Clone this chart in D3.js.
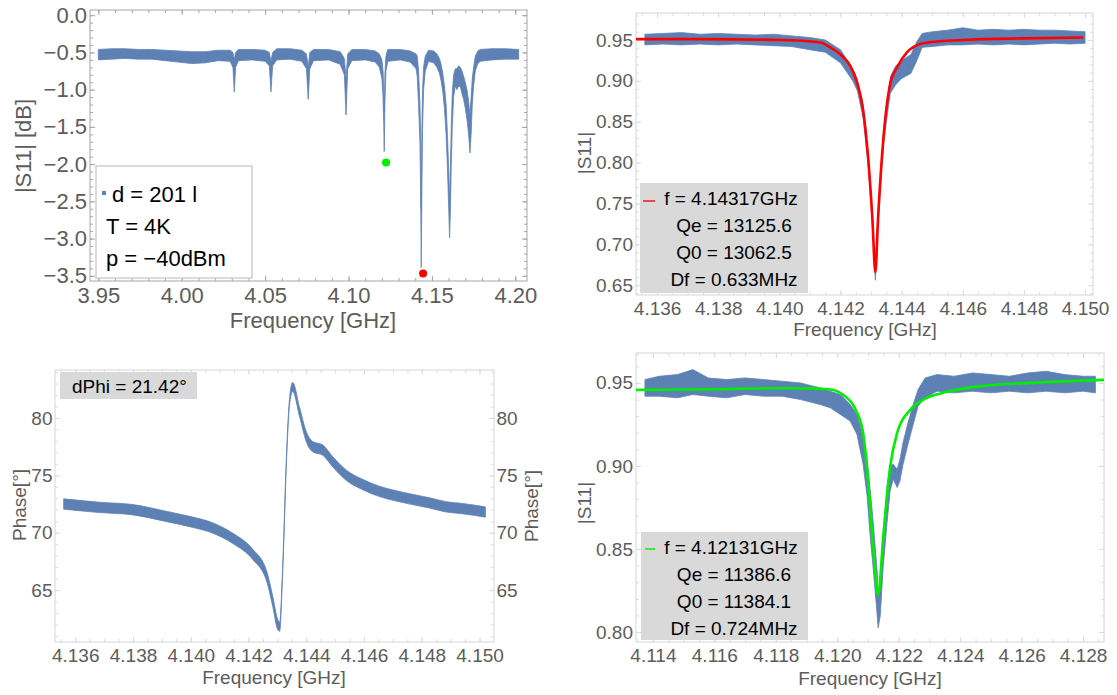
<!DOCTYPE html>
<html lang="en">
<head>
<meta charset="utf-8">
<title>S11 resonances</title>
<script src="https://cdn.jsdelivr.net/npm/d3@7"></script>
<style>
  body { margin: 0; background: #fff; }
  svg { display: block; font-family: "Liberation Sans", Arial, sans-serif; }
</style>
</head>
<body>
<script>
// ---- data ----
// panel 1 : |S11| [dB] overview, envelope of the measured points [f, lo, hi]
var p1Band = [
  [3.950,-0.60,-0.46],[3.958,-0.59,-0.45],[3.966,-0.58,-0.45],[3.974,-0.59,-0.46],
  [3.982,-0.59,-0.46],[3.990,-0.61,-0.47],[3.998,-0.63,-0.48],[4.006,-0.65,-0.49],
  [4.014,-0.64,-0.49],[4.022,-0.61,-0.47],[4.029,-0.62,-0.47],[4.0307,-0.70,-0.50],
  [4.0315,-1.03,-0.60],[4.0323,-0.70,-0.50],[4.034,-0.61,-0.46],[4.042,-0.60,-0.46],
  [4.050,-0.62,-0.47],[4.0525,-0.68,-0.50],[4.0535,-1.03,-0.62],[4.0545,-0.68,-0.50],
  [4.057,-0.60,-0.45],[4.065,-0.59,-0.45],[4.072,-0.62,-0.47],[4.0748,-0.72,-0.52],
  [4.0758,-1.13,-0.70],[4.0768,-0.72,-0.50],[4.079,-0.61,-0.46],[4.088,-0.60,-0.46],
  [4.095,-0.66,-0.49],[4.0975,-0.80,-0.58],[4.0985,-1.34,-0.85],[4.0995,-0.72,-0.52],
  [4.102,-0.61,-0.46],[4.110,-0.60,-0.46],[4.116,-0.63,-0.48],[4.1185,-0.70,-0.52],
  [4.1200,-0.85,-0.60],[4.1207,-1.10,-0.75],[4.1211,-1.45,-1.00],[4.1214,-1.83,-1.30],
  [4.1218,-1.20,-0.80],[4.1224,-0.75,-0.55],[4.1235,-0.62,-0.46],[4.131,-0.60,-0.46],
  [4.137,-0.63,-0.48],[4.1405,-0.72,-0.52],[4.1412,-0.83,-0.55],[4.1420,-1.20,-0.75],
  [4.1428,-1.70,-1.20],[4.1432,-2.30,-1.60],[4.1436,-3.39,-2.60],[4.1440,-2.30,-1.50],
  [4.1444,-1.50,-1.00],[4.1450,-1.00,-0.70],[4.1460,-0.75,-0.55],[4.148,-0.62,-0.47],
  [4.151,-0.64,-0.48],[4.153,-0.70,-0.52],[4.1545,-0.78,-0.58],[4.1555,-0.88,-0.66],
  [4.1565,-1.02,-0.78],[4.1575,-1.25,-0.95],[4.1585,-1.60,-1.20],[4.1593,-2.05,-1.60],
  [4.1600,-2.55,-2.05],[4.1606,-2.99,-2.50],[4.1611,-2.60,-2.00],[4.1616,-2.00,-1.50],
  [4.1622,-1.50,-1.05],[4.1630,-1.10,-0.80],[4.1640,-0.95,-0.72],[4.1650,-1.00,-0.72],
  [4.1660,-0.95,-0.68],[4.1670,-0.96,-0.70],[4.1680,-1.05,-0.75],[4.1690,-1.13,-0.82],
  [4.1700,-1.25,-0.90],[4.1710,-1.40,-1.00],[4.1720,-1.60,-1.15],[4.1728,-1.85,-1.35],
  [4.1735,-1.60,-1.10],[4.1742,-1.20,-0.85],[4.1750,-0.95,-0.70],[4.1760,-0.75,-0.55],
  [4.1775,-0.65,-0.48],[4.179,-0.62,-0.46],[4.186,-0.60,-0.45],[4.194,-0.59,-0.45],
  [4.202,-0.59,-0.46]
];
var p1Marks = [[4.1225, -1.98, "#00ee00"], [4.1447, -3.47, "#ff0000"]];
var p1XTicks = [3.95, 4.00, 4.05, 4.10, 4.15, 4.20];
var p1XLabels = ["3.95", "4.00", "4.05", "4.10", "4.15", "4.20"];
var p1YTicks = [0, -0.5, -1, -1.5, -2, -2.5, -3, -3.5];
var p1YLabels = ["0.0", "\u22120.5", "\u22121.0", "\u22121.5", "\u22122.0", "\u22122.5", "\u22123.0", "\u22123.5"];
var p1Legend = ["d = 201 l", "T = 4K", "p = \u221240dBm"];

// panel 2 : |S11| around 4.143 GHz, measured envelope and fit
var p2Band = [
  [4.1356,0.944,0.957],[4.1362,0.945,0.958],[4.1368,0.944,0.959],[4.1374,0.945,0.957],
  [4.1380,0.944,0.958],[4.1386,0.945,0.957],[4.1392,0.944,0.956],[4.1398,0.943,0.957],
  [4.1404,0.942,0.955],[4.1410,0.938,0.953],[4.1415,0.935,0.950],[4.1420,0.922,0.938],
  [4.1424,0.900,0.915],[4.14255,0.888,0.902],[4.14274,0.855,0.870],[4.14291,0.795,0.810],
  [4.14304,0.725,0.740],[4.14314,0.656,0.672],[4.14323,0.725,0.740],[4.14340,0.820,0.835],
  [4.1435,0.850,0.868],[4.14363,0.885,0.905],[4.1438,0.895,0.918],[4.1440,0.903,0.925],
  [4.1443,0.909,0.932],[4.1445,0.925,0.948],[4.14467,0.941,0.958],[4.1450,0.942,0.960],
  [4.1455,0.944,0.962],[4.1460,0.944,0.965],[4.1465,0.945,0.962],[4.1470,0.944,0.963],
  [4.1475,0.945,0.962],[4.1480,0.944,0.963],[4.1485,0.945,0.962],[4.1490,0.946,0.962],
  [4.1495,0.945,0.961],[4.1500,0.946,0.960]
];
var p2Fit = [
  [4.13531,0.951],[4.13741,0.951],[4.14003,0.950],[4.14134,0.947],[4.14166,0.941],
  [4.14209,0.929],[4.14232,0.918],[4.14255,0.897],[4.14274,0.864],[4.14291,0.803],
  [4.14304,0.733],[4.14314,0.666],[4.14323,0.733],[4.14340,0.828],[4.14363,0.897],
  [4.14386,0.917],[4.14418,0.935],[4.14471,0.946],[4.14602,0.950],[4.14798,0.952],
  [4.14994,0.953]
];
var p2XTicks = [4.136, 4.138, 4.140, 4.142, 4.144, 4.146, 4.148, 4.150];
var p2XLabels = ["4.136", "4.138", "4.140", "4.142", "4.144", "4.146", "4.148", "4.150"];
var p2YTicks = [0.65, 0.70, 0.75, 0.80, 0.85, 0.90, 0.95];
var p2YLabels = ["0.65", "0.70", "0.75", "0.80", "0.85", "0.90", "0.95"];
var p2Legend = ["f = 4.14317GHz", "Qe = 13125.6", "Q0 = 13062.5", "Df = 0.633MHz"];

// panel 3 : phase around 4.143 GHz, envelope [f, lo, hi]
var p3Band = [
  [4.1356,72.05,72.95],[4.13686,71.75,72.65],[4.1380,71.55,72.45],[4.13918,70.95,71.85],
  [4.1400,70.5,71.4],[4.14077,69.95,70.85],[4.14146,69.05,69.95],[4.14215,67.65,68.55],
  [4.14263,65.75,66.65],[4.14284,63.55,64.45],[4.14301,61.55,62.45],[4.14308,61.4,62.2],
  [4.14318,66.3,66.9],[4.14332,76.5,77.1],[4.14342,81.1,81.7],[4.14353,82.3,83.1],
  [4.14377,80.1,80.9],[4.14401,77.85,78.75],[4.14422,77.05,77.95],[4.14457,76.75,77.65],
  [4.14491,75.75,76.65],[4.14539,74.55,75.45],[4.14595,73.75,74.65],[4.14653,73.15,74.05],
  [4.14712,72.75,73.65],[4.14767,72.45,73.35],[4.14826,72.15,73.05],[4.14885,71.8,72.7],
  [4.1494,71.65,72.55],[4.1502,71.35,72.25]
];
var p3XTicks = p2XTicks;
var p3XLabels = p2XLabels;
var p3YTicks = [65, 70, 75, 80];
var p3YLabels = ["65", "70", "75", "80"];
var p3Legend = ["dPhi = 21.42\u00b0"];

// panel 4 : |S11| around 4.121 GHz, measured envelope and fit
var p4Band = [
  [4.11374,0.942,0.952],[4.1142,0.942,0.954],[4.1148,0.941,0.955],[4.1153,0.943,0.958],
  [4.1158,0.942,0.953],[4.1164,0.941,0.952],[4.1170,0.943,0.953],[4.1176,0.942,0.952],
  [4.1182,0.942,0.951],[4.1188,0.940,0.950],[4.11944,0.937,0.947],[4.11977,0.935,0.945],
  [4.1201,0.931,0.943],[4.12042,0.927,0.937],[4.12064,0.919,0.931],[4.12084,0.901,0.918],
  [4.12097,0.882,0.905],[4.12107,0.858,0.886],[4.12117,0.838,0.866],[4.1213,0.810,0.836],
  [4.12133,0.8025,0.822],[4.1214,0.810,0.826],[4.12149,0.838,0.860],[4.12162,0.866,0.888],
  [4.12172,0.885,0.900],[4.12182,0.892,0.901],[4.12195,0.887,0.898],[4.12204,0.891,0.904],
  [4.12214,0.901,0.914],[4.1223,0.913,0.926],[4.12247,0.925,0.937],[4.12263,0.936,0.946],
  [4.12286,0.941,0.953],[4.12325,0.945,0.955],[4.1238,0.944,0.954],[4.1244,0.945,0.956],
  [4.1250,0.944,0.955],[4.1256,0.945,0.954],[4.1262,0.944,0.956],[4.1268,0.945,0.957],
  [4.1274,0.944,0.955],[4.1280,0.945,0.954],[4.1284,0.944,0.954]
];
var p4Fit = [
  [4.11345,0.9458],[4.1160,0.9462],[4.1180,0.9468],[4.1190,0.9467],[4.11977,0.9460],
  [4.12019,0.9428],[4.12058,0.9345],[4.12084,0.920],[4.12100,0.8916],[4.12117,0.851],
  [4.12133,0.8224],[4.12149,0.8555],[4.12172,0.8994],[4.12195,0.920],[4.12237,0.9337],
  [4.12279,0.9398],[4.12358,0.9446],[4.12465,0.948],[4.12628,0.950],[4.12869,0.9518]
];
var p4XTicks = [4.114, 4.116, 4.118, 4.120, 4.122, 4.124, 4.126, 4.128];
var p4XLabels = ["4.114", "4.116", "4.118", "4.120", "4.122", "4.124", "4.126", "4.128"];
var p4YTicks = [0.80, 0.85, 0.90, 0.95];
var p4YLabels = ["0.80", "0.85", "0.90", "0.95"];
var p4Legend = ["f = 4.12131GHz", "Qe = 11386.6", "Q0 = 11384.1", "Df = 0.724MHz"];

// ---- drawing ----
var blue = "#5e81b5";
var labelGrey = "#5c5c5c";
var svg = d3.select("body").append("svg").attr("width", 1117).attr("height", 695);

var clipId = 0;
var panel = function(c) {
	var x = d3.scaleLinear().domain(c.xDomain).range([c.left, c.right]);
	var y = d3.scaleLinear().domain(c.yDomain).range([c.bottom, c.top]);
	var g = svg.append("g");
	clipId++;
	svg.append("clipPath").attr("id", "clip" + clipId)
		.append("rect")
		.attr("x", c.left).attr("y", c.top)
		.attr("width", c.right - c.left).attr("height", c.bottom - c.top);

	var style = function(sel, fs) {
		sel.select(".domain").remove();
		sel.attr("font-family", null).attr("font-size", fs);
		sel.selectAll("line").attr("stroke", c.tickColor);
		sel.selectAll("text").attr("fill", labelGrey);
	};
	var xMinor = d3.range(c.xMinor[0], c.xMinor[1] + c.xMinor[2] / 2, c.xMinor[2]);
	var yMinor = d3.range(c.yMinor[0], c.yMinor[1] + c.yMinor[2] / 2, c.yMinor[2]);

	// minor ticks on all four sides
	g.append("g").attr("transform", "translate(0," + c.bottom + ")")
		.call(d3.axisBottom(x).tickValues(xMinor).tickFormat("").tickSize(-3)).call(style, c.fs);
	g.append("g").attr("transform", "translate(0," + c.top + ")")
		.call(d3.axisTop(x).tickValues(xMinor).tickFormat("").tickSize(-3)).call(style, c.fs);
	g.append("g").attr("transform", "translate(" + c.left + ",0)")
		.call(d3.axisLeft(y).tickValues(yMinor).tickFormat("").tickSize(-3)).call(style, c.fs);
	g.append("g").attr("transform", "translate(" + c.right + ",0)")
		.call(d3.axisRight(y).tickValues(yMinor).tickFormat("").tickSize(-3)).call(style, c.fs);

	// major ticks
	g.append("g").attr("transform", "translate(0," + c.bottom + ")")
		.call(d3.axisBottom(x).tickValues(c.xTicks).tickFormat(function(d, i) { return c.xLabels[i]; })
			.tickSize(-5).tickPadding(c.xPad)).call(style, c.fs);
	g.append("g").attr("transform", "translate(0," + c.top + ")")
		.call(d3.axisTop(x).tickValues(c.xTicks).tickFormat("").tickSize(-5)).call(style, c.fs);
	g.append("g").attr("transform", "translate(" + c.left + ",0)")
		.call(d3.axisLeft(y).tickValues(c.yTicks).tickFormat(function(d, i) { return c.yLabels[i]; })
			.tickSize(-5).tickPadding(c.yPad)).call(style, c.fs);
	g.append("g").attr("transform", "translate(" + c.right + ",0)")
		.call(d3.axisRight(y).tickValues(c.yTicks)
			.tickFormat(function(d, i) { return c.rightLabels ? c.yLabels[i] : ""; })
			.tickSize(-5).tickPadding(c.yPad)).call(style, c.fs);

	g.append("rect")
		.attr("x", c.left).attr("y", c.top)
		.attr("width", c.right - c.left).attr("height", c.bottom - c.top)
		.attr("fill", "none").attr("stroke", c.frameColor).attr("stroke-width", 1);

	// axis titles
	g.append("text").attr("x", c.xTitle[0]).attr("y", c.xTitle[1])
		.attr("text-anchor", "middle").attr("font-size", c.fs).attr("fill", labelGrey)
		.text("Frequency [GHz]");
	c.yTitles.forEach(function(t) {
		g.append("text")
			.attr("transform", "translate(" + t[0] + "," + t[1] + ") rotate(-90)")
			.attr("text-anchor", "middle").attr("font-size", c.fs).attr("fill", labelGrey)
			.text(c.yTitle);
	});

	var plot = g.append("g").attr("clip-path", "url(#clip" + clipId + ")");
	return { x: x, y: y, g: g, plot: plot };
};

var drawBand = function(p, data, curve) {
	var area = d3.area()
		.x(function(d) { return p.x(d[0]); })
		.y0(function(d) { return p.y(d[1]); })
		.y1(function(d) { return p.y(d[2]); })
		.curve(curve || d3.curveLinear);
	p.plot.append("path").datum(data)
		.attr("d", area)
		.attr("fill", blue).attr("stroke", blue).attr("stroke-width", 0.8);
};

var drawFit = function(p, data, color) {
	var line = d3.line()
		.x(function(d) { return p.x(d[0]); })
		.y(function(d) { return p.y(d[1]); })
		.curve(d3.curveMonotoneX);
	p.plot.append("path").datum(data)
		.attr("d", line)
		.attr("fill", "none").attr("stroke", color).attr("stroke-width", 2.6);
};

var boxLegend = function(p, box, lines, color, swatch) {
	p.g.append("rect")
		.attr("x", box[0]).attr("y", box[1]).attr("width", box[2]).attr("height", box[3])
		.attr("fill", "#d9d9d9");
	if (swatch) {
		p.g.append("line")
			.attr("x1", swatch[0]).attr("x2", swatch[1]).attr("y1", swatch[2]).attr("y2", swatch[2])
			.attr("stroke", color).attr("stroke-width", 1.4);
	}
	p.g.selectAll(null)
		.data(lines)
		.enter()
		.append("text")
		.attr("x", function(d, i) { return i == 0 ? 731 : 734; })
		.attr("y", function(d, i) { return box[1] + 22 + i * 27; })
		.attr("text-anchor", "middle")
		.attr("font-size", 19)
		.attr("fill", "#000")
		.text(function(d) { return d; });
};

// panel 1
var p1 = panel({
	left: 90, right: 527, top: 10, bottom: 281,
	xDomain: [3.945, 4.207], yDomain: [-3.57, 0.07],
	xTicks: p1XTicks, xLabels: p1XLabels, yTicks: p1YTicks, yLabels: p1YLabels,
	xMinor: [3.95, 4.20, 0.01], yMinor: [-3.5, 0, 0.1],
	fs: 22, xPad: 6.5, yPad: 3,
	frameColor: "#a6a6a6", tickColor: "#a6a6a6",
	xTitle: [313, 328], yTitle: "|S11| [dB]", yTitles: [[31, 146]]
});
drawBand(p1, p1Band);
p1.plot.selectAll("circle")
	.data(p1Marks)
	.enter()
	.append("circle")
	.attr("cx", function(d) { return p1.x(d[0]); })
	.attr("cy", function(d) { return p1.y(d[1]); })
	.attr("r", 4)
	.attr("fill", function(d) { return d[2]; });
p1.g.append("rect")
	.attr("x", 96).attr("y", 166).attr("width", 156).attr("height", 112)
	.attr("fill", "#fff").attr("stroke", "#cfcfcf").attr("stroke-width", 1.5);
p1.g.append("rect").attr("x", 102).attr("y", 191).attr("width", 4).attr("height", 4).attr("fill", blue);
p1.g.selectAll(null)
	.data(p1Legend)
	.enter()
	.append("text")
	.attr("x", function(d, i) { return i == 0 ? 112 : 106; })
	.attr("y", function(d, i) { return 202 + i * 32; })
	.attr("font-size", 22)
	.attr("fill", "#000")
	.text(function(d) { return d; });

// panel 2
var p2 = panel({
	left: 636, right: 1093, top: 13, bottom: 295,
	xDomain: [4.13531, 4.15026], yDomain: [0.638, 0.983],
	xTicks: p2XTicks, xLabels: p2XLabels, yTicks: p2YTicks, yLabels: p2YLabels,
	xMinor: [4.1355, 4.150, 0.0005], yMinor: [0.64, 0.98, 0.01],
	fs: 19, xPad: 6.5, yPad: 3,
	frameColor: "#d6d6d6", tickColor: "#dcdcdc",
	xTitle: [865, 336], yTitle: "|S11|", yTitles: [[591, 153]]
});
drawBand(p2, p2Band);
drawFit(p2, p2Fit, "#ff0000");
boxLegend(p2, [640, 183, 168, 110], p2Legend, "#ff0000", [643, 655, 201]);

// panel 3
var p3 = panel({
	left: 55, right: 494, top: 370, bottom: 642,
	xDomain: [4.1353, 4.1505], yDomain: [60.47, 84.18],
	xTicks: p3XTicks, xLabels: p3XLabels, yTicks: p3YTicks, yLabels: p3YLabels,
	xMinor: [4.1355, 4.150, 0.0005], yMinor: [61, 84, 1],
	fs: 19, xPad: 6.5, yPad: 2.5, rightLabels: true,
	frameColor: "#d6d6d6", tickColor: "#dcdcdc",
	xTitle: [274, 684], yTitle: "Phase[\u00b0]", yTitles: [[26, 505], [538, 506]]
});
drawBand(p3, p3Band, d3.curveMonotoneX);
p3.g.append("rect").attr("x", 60).attr("y", 372).attr("width", 137).attr("height", 27).attr("fill", "#d9d9d9");
p3.g.append("text").attr("x", 72).attr("y", 393).attr("font-size", 19).attr("fill", "#000").text(p3Legend[0]);

// panel 4
var p4 = panel({
	left: 636, right: 1104, top: 353, bottom: 642,
	xDomain: [4.11345, 4.12868], yDomain: [0.794, 0.968],
	xTicks: p4XTicks, xLabels: p4XLabels, yTicks: p4YTicks, yLabels: p4YLabels,
	xMinor: [4.1135, 4.1285, 0.0005], yMinor: [0.80, 0.96, 0.01],
	fs: 19, xPad: 6.5, yPad: 3,
	frameColor: "#d6d6d6", tickColor: "#dcdcdc",
	xTitle: [870, 685], yTitle: "|S11|", yTitles: [[591, 503]]
});
drawBand(p4, p4Band);
drawFit(p4, p4Fit, "#00ee00");
boxLegend(p4, [641, 532, 167, 108], p4Legend, "#00ee00", [645, 655, 549]);
</script>
</body>
</html>
